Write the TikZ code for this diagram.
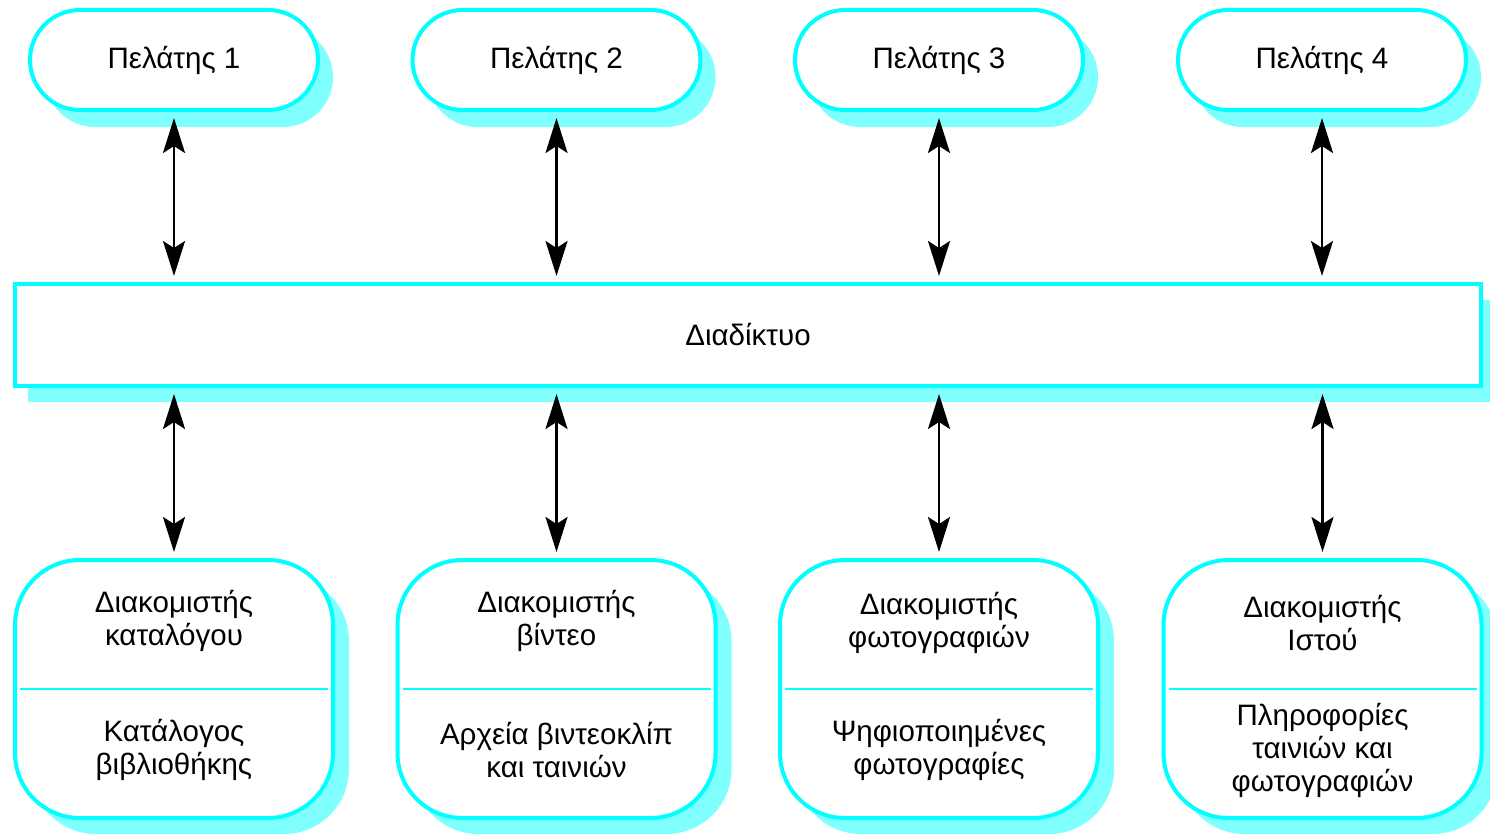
\documentclass[tikz,border=0pt]{standalone}
\usepackage{fontspec}
\setmainfont{Liberation Sans}
\usetikzlibrary{
        arrows.meta,
        positioning,
        shadows
    }
\definecolor{boxcyan}{RGB}{0,255,255}
\definecolor{shadowcyan}{RGB}{128,255,255}
\tikzset{>={Stealth[length=0.7cm,width=0.44cm,inset=0.14cm]},shorten >=0.12cm,shorten <=0.12cm,node distance=1.9cm}
\tikzset{txt/.style={font=\fontsize{16.8}{18.8}\selectfont,align=center}}
\tikzset{client/.style={txt,draw=boxcyan,line width=0.08cm,fill=white,rounded corners=1cm,
        minimum width=5.76cm,minimum height=2cm,
        drop shadow={fill=shadowcyan,opacity=1,shadow xshift=0.3cm,shadow yshift=-0.34cm}}}
\tikzset{netbox/.style={txt,draw=boxcyan,line width=0.08cm,fill=white,
        minimum width=29.32cm,minimum height=2.04cm,
        drop shadow={fill=shadowcyan,opacity=1,shadow xshift=0.26cm,shadow yshift=-0.32cm}}}
\tikzset{server/.style={draw=boxcyan,line width=0.08cm,fill=white,rounded corners=1.3cm,
        minimum width=6.36cm,minimum height=5.16cm,
        drop shadow={fill=shadowcyan,opacity=1,shadow xshift=0.32cm,shadow yshift=-0.32cm}}}

\begin{document}
\begin{tikzpicture}
                \useasboundingbox (0,0) rectangle (29.8,-16.66);
                % clients
                \node[client] (c1) at (3.48,-1.2) {Πελάτης 1};
                \node[client] (c2) at (11.13,-1.2) {Πελάτης 2};
                \node[client] (c3) at (18.78,-1.2) {Πελάτης 3};
                \node[client] (c4) at (26.44,-1.2) {Πελάτης 4};
                % network
                \node[netbox] (net) at (14.96,-6.7) {Διαδίκτυο};
                % servers
                \node[server] (s1) at (3.48,-13.78) {};
                \node[server] (s2) at (11.13,-13.78) {};
                \node[server] (s3) at (18.78,-13.78) {};
                \node[server] (s4) at (26.45,-13.78) {};
                \foreach \s in {s1,s2,s3,s4}
                    \draw[boxcyan,line width=0.05cm] ([xshift=0.02cm]\s.west) -- ([xshift=-0.02cm]\s.east);
                \node[txt] (h1) at ([yshift=1.36cm]s1.center) {Διακομιστής\\καταλόγου};
                \node[txt] (d1) at ([yshift=-1.22cm]s1.center) {Κατάλογος\\βιβλιοθήκης};
                \node[txt] (h2) at ([yshift=1.36cm]s2.center) {Διακομιστής\\βίντεο};
                \node[txt] (d2) at ([yshift=-1.22cm]s2.center) {Αρχεία βιντεοκλίπ\\και ταινιών};
                \node[txt] (h3) at ([yshift=1.32cm]s3.center) {Διακομιστής\\φωτογραφιών};
                \node[txt] (d3) at ([yshift=-1.22cm]s3.center) {Ψηφιοποιημένες\\φωτογραφίες};
                \node[txt] (h4) at ([yshift=1.32cm]s4.center) {Διακομιστής\\Ιστού};
                \node[txt] (d4) at ([yshift=-1.22cm]s4.center) {Πληροφορίες\\ταινιών και\\φωτογραφιών};
                \path[<->,line width=0.055cm]
                    (c1.south)  edge  (c1.south |- net.north)
                    (c2.south)  edge  (c2.south |- net.north)
                    (c3.south)  edge  (c3.south |- net.north)
                    (c4.south)  edge  (c4.south |- net.north)
                    (s1.north |- net.south)  edge  (s1.north)
                    (s2.north |- net.south)  edge  (s2.north)
                    (s3.north |- net.south)  edge  (s3.north)
                    (s4.north |- net.south)  edge  (s4.north)
                ;
\end{tikzpicture}
\end{document}
